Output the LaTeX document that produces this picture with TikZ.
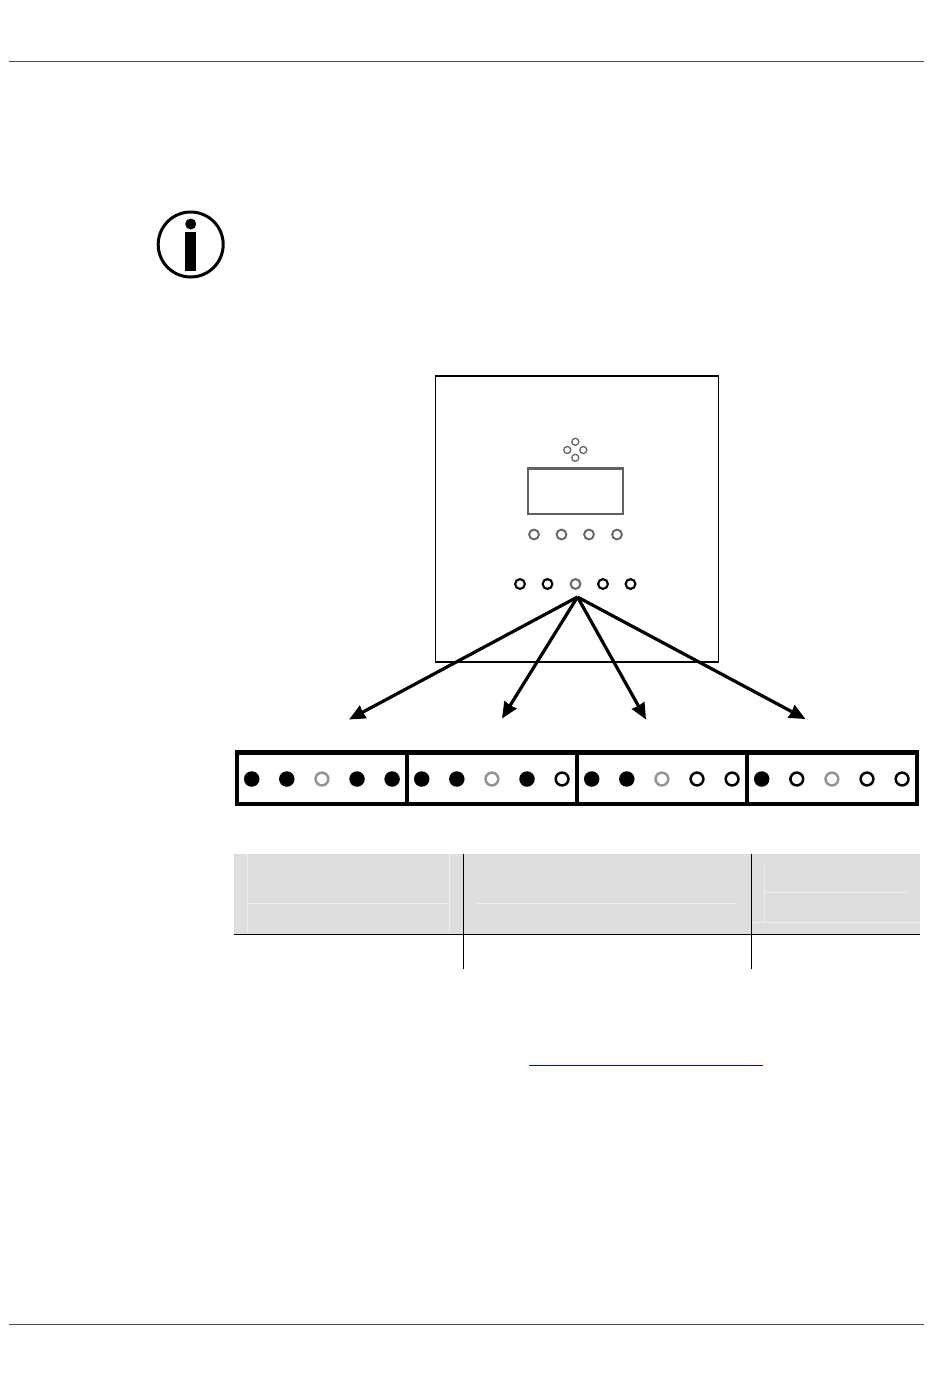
\documentclass[tikz,border=0pt]{standalone}
\usepackage{tikz}
\usetikzlibrary{arrows.meta}

\begin{document}
\begin{tikzpicture}[x=1pt,y=-1pt,>={Stealth[length=16pt,width=14pt,inset=0.5pt]},node distance=35.1pt,
    panel part/.style={rectangle,draw,inner sep=0pt},
    pad key/.style={circle,draw=black!60,line width=1.3pt,inner sep=0pt,minimum size=7pt},
    menu key/.style={circle,draw=black!60,line width=1.9pt,inner sep=0pt,minimum size=9.8pt},
    led key/.style={circle,draw,line width=2.1pt,inner sep=0pt,minimum size=9.8pt},
    dot on/.style={circle,fill,inner sep=0pt,minimum size=15.5pt},
    dot off/.style={circle,draw,line width=2.5pt,inner sep=0pt,minimum size=12.8pt},
    dot dim/.style={circle,draw=black!42,line width=2.5pt,inner sep=0pt,minimum size=12.8pt},
    strip cell/.style={rectangle,draw,line width=4.3pt,inner sep=0pt,minimum width=170pt,minimum height=51.5pt},
    head cell/.style={rectangle,fill=black!13,inner sep=0pt,minimum height=80pt},
    fan arrow/.style={->,line width=3.2pt},
    faint/.style={draw=black!7,line width=0.7pt}]

  \useasboundingbox (0,0) rectangle (950,1379);

  % page rules
  \draw[black!70,line width=1pt] (9,61) -- (924,61);
  \draw[black!70,line width=1pt] (9,1324) -- (924,1324);

  % info sign
  \node[circle,draw,line width=3pt,inner sep=0pt,minimum size=65pt] (info) at (190.7,244.5) {};
  \node[circle,fill,inner sep=0pt,minimum size=11pt] (infodot) at (190.7,224) {};
  \node[rectangle,fill,inner sep=0pt,minimum width=10.5pt,minimum height=39pt] (infobar) at (190.7,251.5) {};

  % control panel
  \node[panel part,line width=1.3pt,minimum width=282.5pt,minimum height=286pt] (panel) at (577,519) {};
  \node[panel part,draw=black!62,line width=2.3pt,minimum width=94.5pt,minimum height=45.5pt] (display) at (575.5,491.2) {};

  \node[pad key] (padup)    at (575.3,441.8) {};
  \node[pad key] (paddown)  at (575.3,457.8) {};
  \node[pad key] (padleft)  at (567.3,450) {};
  \node[pad key] (padright) at (583.3,450) {};

  \node[menu key] (menua) at (534,534.5) {};
  \node[menu key] (menub) at (561.5,534.5) {};
  \node[menu key] (menuc) at (589,534.5) {};
  \node[menu key] (menud) at (617,534.5) {};

  \node[led key]             (leda) at (520,584) {};
  \node[led key]             (ledb) at (547.5,584) {};
  \node[led key,draw=black!58] (ledc) at (575.5,584) {};
  \node[led key]             (ledd) at (603,584) {};
  \node[led key]             (lede) at (630.5,584) {};

  % fan of arrows
  \coordinate (fan) at (577.5,597);
  \coordinate (toa) at (349,719.5);
  \coordinate (tob) at (502,718.5);
  \coordinate (toc) at (646,719.5);
  \coordinate (tod) at (805.5,719);
  \draw[fan arrow] (fan) -- (toa);
  \draw[fan arrow] (fan) -- (tob);
  \draw[fan arrow] (fan) -- (toc);
  \draw[fan arrow] (fan) -- (tod);

  % address strip
  \node[strip cell] (cella) at (322,778.2) {};
  \node[strip cell] (cellb) at (491.8,778.2) {};
  \node[strip cell] (cellc) at (661.8,778.2) {};
  \node[strip cell] (celld) at (831.8,778.2) {};

  \node[dot on]  (a1) at (251.7,779) {};
  \node[dot on]  (a2) [right of=a1] {};
  \node[dot dim] (a3) [right of=a2] {};
  \node[dot on]  (a4) [right of=a3] {};
  \node[dot on]  (a5) [right of=a4] {};

  \node[dot on]  (b1) at (421.7,779) {};
  \node[dot on]  (b2) [right of=b1] {};
  \node[dot dim] (b3) [right of=b2] {};
  \node[dot on]  (b4) [right of=b3] {};
  \node[dot off] (b5) [right of=b4] {};

  \node[dot on]  (c1) at (591.7,779) {};
  \node[dot on]  (c2) [right of=c1] {};
  \node[dot dim] (c3) [right of=c2] {};
  \node[dot off] (c4) [right of=c3] {};
  \node[dot off] (c5) [right of=c4] {};

  \node[dot on]  (d1) at (761.7,779) {};
  \node[dot off] (d2) [right of=d1] {};
  \node[dot dim] (d3) [right of=d2] {};
  \node[dot off] (d4) [right of=d3] {};
  \node[dot off] (d5) [right of=d4] {};

  % table head
  \node[head cell,minimum width=229pt] (heada) at (348.5,893.5) {};
  \node[head cell,minimum width=288.5pt] (headb) at (607.25,893.5) {};
  \node[head cell,minimum width=168.5pt] (headc) at (835.75,893.5) {};

  \draw[faint] (247.5,853.5) -- (247.5,933);
  \draw[faint] (449,853.5) -- (449,933);
  \draw[faint] (247.5,903) -- (449,903);
  \draw[faint] (476,903) -- (737,903);
  \draw[faint] (764.5,865) -- (764.5,922);
  \draw[faint] (764.5,892) -- (907,892);
  \draw[faint] (751.5,922) -- (920,922);

  \draw[line width=1pt] (234,934) -- (920,934);
  \draw[line width=1pt] (463,853.5) -- (463,969);
  \draw[line width=1pt] (751.5,853.5) -- (751.5,969);

  % link underline
  \draw[blue,line width=1.5pt] (529,1065.5) -- (763,1065.5);
\end{tikzpicture}
\end{document}
